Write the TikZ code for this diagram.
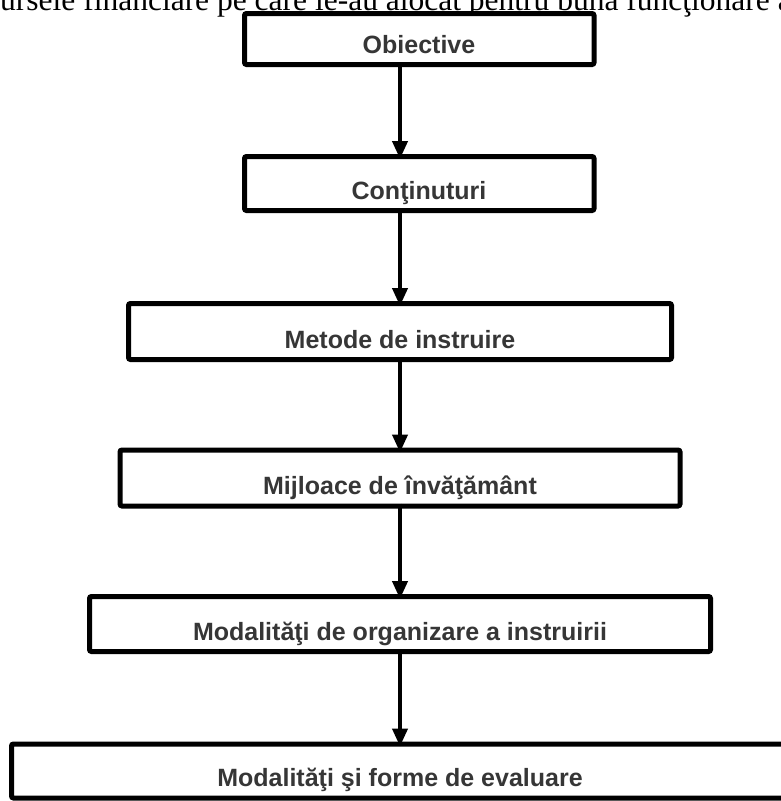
\documentclass[tikz,border=0pt]{standalone}
\usepackage{fontspec}
\newfontfamily\boxfont{Liberation Sans}
\newfontfamily\topfont{Liberation Serif}
\usetikzlibrary{arrows.meta}
\definecolor{txtgray}{HTML}{363636}
\tikzset{
  box/.style={draw=black, line width=5pt, rounded corners=2pt, inner sep=0pt, outer sep=0pt, fill=white},
  lbl/.style={anchor=base, inner sep=0pt, text=txtgray, font=\boxfont\bfseries\fontsize{25}{25}\selectfont},
  arr/.style={line width=4pt, -{Triangle[width=15pt,length=18pt]}, shorten >=-2.5pt, shorten <=-2.5pt}
}
\begin{document}
\begin{tikzpicture}[x=1pt,y=-1pt]
\useasboundingbox (0,0) rectangle (781,801);
\clip (0,0) rectangle (781,801);
\fill[white] (0,0) rectangle (781,801);
\node[anchor=base west, inner sep=0pt, font=\topfont\fontsize{31.5}{31.5}\selectfont] (top) at (0,10) {ursele financiare pe care le-au alocat pentru buna funcţionare a};
\coordinate (ax) at (400,0);
\node[box, minimum width=349.5pt, minimum height=51pt] (b1) at (419.25,39) {};
\node[box, minimum width=349.5pt, minimum height=54pt] (b2) at (419.25,183.5) {};
\node[box, minimum width=543pt, minimum height=56pt] (b3) at (400,331.5) {};
\node[box, minimum width=560pt, minimum height=56pt] (b4) at (400,478) {};
\node[box, minimum width=621pt, minimum height=55pt] (b5) at (400,624) {};
\node[box, minimum width=777pt, minimum height=54pt] (b6) at (400,771) {};
\node[lbl] (t1) at (419,53) {Obiective};
\node[lbl] (t2) at (419,199) {Conţinuturi};
\node[lbl] (t3) at (400,348) {Metode de instruire};
\node[lbl] (t4) at (400,494.5) {Mijloace de învăţământ};
\node[lbl] (t5) at (400,640) {Modalităţi de organizare a instruirii};
\node[lbl] (t6) at (400,786.5) {Modalităţi şi forme de evaluare};
\draw[arr] (ax |- b1.south) -- (ax |- b2.north);
\draw[arr] (ax |- b2.south) -- (ax |- b3.north);
\draw[arr] (ax |- b3.south) -- (ax |- b4.north);
\draw[arr] (ax |- b4.south) -- (ax |- b5.north);
\draw[arr] (ax |- b5.south) -- (ax |- b6.north);
\end{tikzpicture}
\end{document}
